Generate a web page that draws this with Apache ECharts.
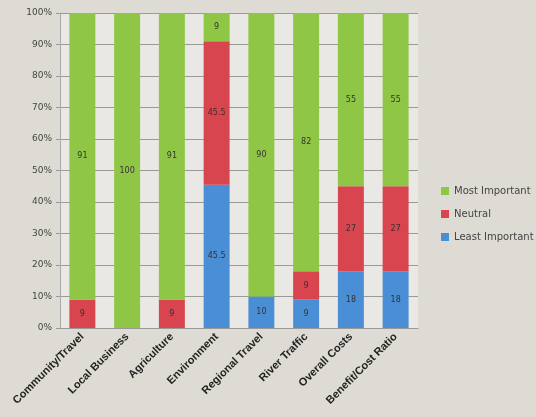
<!DOCTYPE html>
<html>
<head>
<meta charset="utf-8">
<script src="https://cdn.jsdelivr.net/npm/echarts@6/dist/echarts.min.js"></script>
<style>
  html, body { margin: 0; padding: 0; background: #dddbd3; }
  #chart { width: 536px; height: 417px; }
</style>
</head>
<body>
<div id="chart"></div>
<script>
// Importance ratings per factor, in percent of respondents
const categories = ['Community/Travel', 'Local Business', 'Agriculture', 'Environment',
  'Regional Travel', 'River Traffic', 'Overall Costs', 'Benefit/Cost Ratio'];
const leastImportant = [0, 0, 0, 45.5, 10, 9, 18, 18];
const neutral = [9, 0, 9, 45.5, 0, 9, 27, 27];
const mostImportant = [91, 100, 91, 9, 90, 82, 55, 55];
const yTicks = [0, 10, 20, 30, 40, 50, 60, 70, 80, 90, 100];

const colors = { most: '#8fc645', neutral: '#d8454f', least: '#4a8ed6' };

function seg(name, data, color) {
  return {
    name: name,
    type: 'bar',
    stack: 'total',
    data: data,
    barCategoryGap: '42%',
    itemStyle: { color: color },
    label: {
      show: true,
      position: 'inside',
      color: '#333',
      fontSize: 8,
      fontFamily: 'DejaVu Sans',
      formatter: p => (p.value > 0 ? String(p.value) : '')
    }
  };
}

const chart = echarts.init(document.getElementById('chart'));
chart.setOption({
  backgroundColor: '#dddbd3',
  animation: false,
  grid: { left: 60, right: 118, top: 13, bottom: 89, show: true,
          backgroundColor: '#e9e8e4', borderWidth: 0 },
  legend: {
    orient: 'vertical',
    left: 436, top: 181,
    itemWidth: 8, itemHeight: 8, itemGap: 13,
    icon: 'rect',
    data: ['Most Important', 'Neutral', 'Least Important'],
    textStyle: { color: '#444', fontSize: 10, fontFamily: 'DejaVu Sans' }
  },
  xAxis: {
    type: 'category',
    data: categories,
    axisTick: { show: false },
    axisLine: { lineStyle: { color: '#999' } },
    axisLabel: {
      rotate: 45, interval: 0, margin: 7,
      color: '#222', fontSize: 11, fontWeight: 'bold', fontFamily: 'Liberation Sans'
    }
  },
  yAxis: {
    type: 'value',
    min: yTicks[0], max: yTicks[yTicks.length - 1], interval: 10,
    axisLine: { show: true, lineStyle: { color: '#aaa' } },
    axisTick: { show: true, length: 4, lineStyle: { color: '#999' } },
    splitLine: { lineStyle: { color: '#9a9a96' } },
    axisLabel: { formatter: '{value}%', color: '#444', fontSize: 9, fontFamily: 'DejaVu Sans', margin: 8 }
  },
  series: [
    seg('Least Important', leastImportant, colors.least),
    seg('Neutral', neutral, colors.neutral),
    seg('Most Important', mostImportant, colors.most)
  ]
});
</script>
</body>
</html>
